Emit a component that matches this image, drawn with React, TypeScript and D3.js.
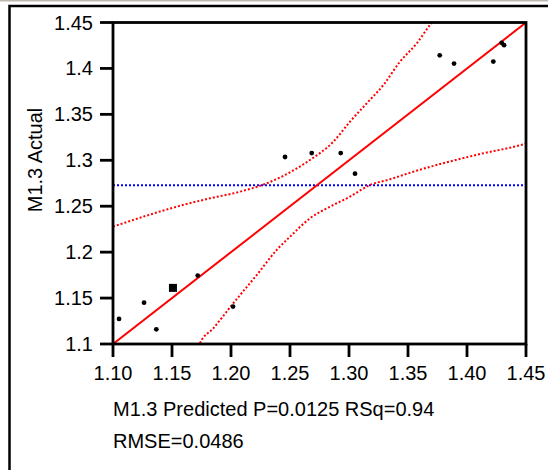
import React from "react";
import * as d3 from "d3";

const predicted = [1.3769, 1.3890, 1.4223, 1.4294, 1.4314, 1.2684, 1.2930, 1.3051, 1.2458, 1.1051, 1.1263, 1.1367, 1.1508, 1.1718, 1.2017];
const actual = [1.4143, 1.4053, 1.4075, 1.4279, 1.4253, 1.3079, 1.3079, 1.2854, 1.3036, 1.1273, 1.1450, 1.1160, 1.1611, 1.1745, 1.1407];
const bigPoint = [false, false, false, false, false, false, false, false, false, false, false, false, true, false, false];

const upperX = [1.1, 1.1257, 1.154, 1.1822, 1.2076, 1.2303, 1.25, 1.2669, 1.2867, 1.3008, 1.315, 1.3291, 1.3432, 1.3574, 1.3686, 1.372];
const upperY = [1.2277, 1.2386, 1.2495, 1.2586, 1.2658, 1.2749, 1.2869, 1.3003, 1.3202, 1.342, 1.362, 1.3819, 1.4073, 1.4273, 1.4473, 1.4527];
const lowerX = [1.1725, 1.1737, 1.185, 1.2019, 1.2218, 1.2387, 1.25, 1.2669, 1.2839, 1.3008, 1.3178, 1.3347, 1.3545, 1.3828, 1.411, 1.4477, 1.45];
const lowerY = [1.0967, 1.1008, 1.1171, 1.1443, 1.1751, 1.2023, 1.2168, 1.2368, 1.2495, 1.2604, 1.2731, 1.2793, 1.2876, 1.2978, 1.3068, 1.3174, 1.3183];
const meanActual = 1.2728;

const xTicks = [1.1, 1.15, 1.2, 1.25, 1.3, 1.35, 1.4, 1.45];
const xTickLabels = ["1.10", "1.15", "1.20", "1.25", "1.30", "1.35", "1.40", "1.45"];
const yTicks = [1.1, 1.15, 1.2, 1.25, 1.3, 1.35, 1.4, 1.45];
const yTickLabels = ["1.1", "1.15", "1.2", "1.25", "1.3", "1.35", "1.4", "1.45"];
const xTitle = "M1.3 Predicted P=0.0125 RSq=0.94";
const xTitle2 = "RMSE=0.0486";
const yTitle = "M1.3 Actual";

const W = 548;
const H = 470;
const L = 113, R = 526, T = 22.5, B = 344;
const FONT = "'Liberation Sans', Arial, sans-serif";

export default function App() {
  const x = d3.scaleLinear().domain([1.1, 1.45]).range([L, R]);
  const y = d3.scaleLinear().domain([1.1, 1.45]).range([B, T]);
  const line = d3
    .line<[number, number]>()
    .x((d) => x(d[0]))
    .y((d) => y(d[1]))
    .curve(d3.curveMonotoneX);
  const upper = upperX.map((v, i) => [v, upperY[i]] as [number, number]);
  const lower = lowerX.map((v, i) => [v, lowerY[i]] as [number, number]);
  const fit: [number, number][] = [
    [1.1, 1.1],
    [1.45, 1.45],
  ];

  return (
    <svg
      width={W}
      height={H}
      style={{ position: "absolute", left: 0, top: 0, background: "#fff" }}
      fontFamily={FONT}
    >
      <rect x={0} y={0} width={W} height={1.5} fill="#bcb8ac" />
      <path d={`M9.5,${H} V6 H${W}`} fill="none" stroke="#000" strokeWidth={2.5} />
      <defs>
        <clipPath id="plotClip">
          <rect x={L} y={T} width={R - L} height={B - T} />
        </clipPath>
      </defs>
      <g clipPath="url(#plotClip)">
        <line
          x1={L}
          x2={R}
          y1={y(meanActual)}
          y2={y(meanActual)}
          stroke="#0000ff"
          strokeWidth={2}
          strokeDasharray="2 2"
        />
        <path d={line(upper) || ""} fill="none" stroke="#ff0000" strokeWidth={2} strokeDasharray="2 2" />
        <path d={line(lower) || ""} fill="none" stroke="#ff0000" strokeWidth={2} strokeDasharray="2 2" />
        <path d={line(fit) || ""} fill="none" stroke="#ff0000" strokeWidth={2} />
        {predicted.map((p, i) =>
          bigPoint[i] ? (
            <rect key={i} x={x(p) - 4} y={y(actual[i]) - 4} width={8} height={8} fill="#000" />
          ) : (
            <circle key={i} cx={x(p)} cy={y(actual[i])} r={2.4} fill="#000" />
          )
        )}
      </g>
      <rect x={L} y={T} width={R - L} height={B - T} fill="none" stroke="#000" strokeWidth={2.8} />
      {yTicks.map((t, i) => (
        <g key={"y" + i}>
          <line x1={L - 13} x2={L} y1={y(t)} y2={y(t)} stroke="#000" strokeWidth={2.8} />
          <text x={93} y={y(t) + 7} fontSize={20} textAnchor="end" fill="#000">
            {yTickLabels[i]}
          </text>
        </g>
      ))}
      {xTicks.map((t, i) => (
        <g key={"x" + i}>
          <line x1={x(t)} x2={x(t)} y1={B} y2={B + 13} stroke="#000" strokeWidth={2.8} />
          <text x={x(t)} y={380} fontSize={20} textAnchor="middle" fill="#000">
            {xTickLabels[i]}
          </text>
        </g>
      ))}
      <text x={113} y={416} fontSize={20} fill="#000">
        {xTitle}
      </text>
      <text x={113} y={448} fontSize={20} fill="#000">
        {xTitle2}
      </text>
      <text
        transform="translate(42,160) rotate(-90)"
        fontSize={20}
        textAnchor="middle"
        fill="#000"
      >
        {yTitle}
      </text>
    </svg>
  );
}
